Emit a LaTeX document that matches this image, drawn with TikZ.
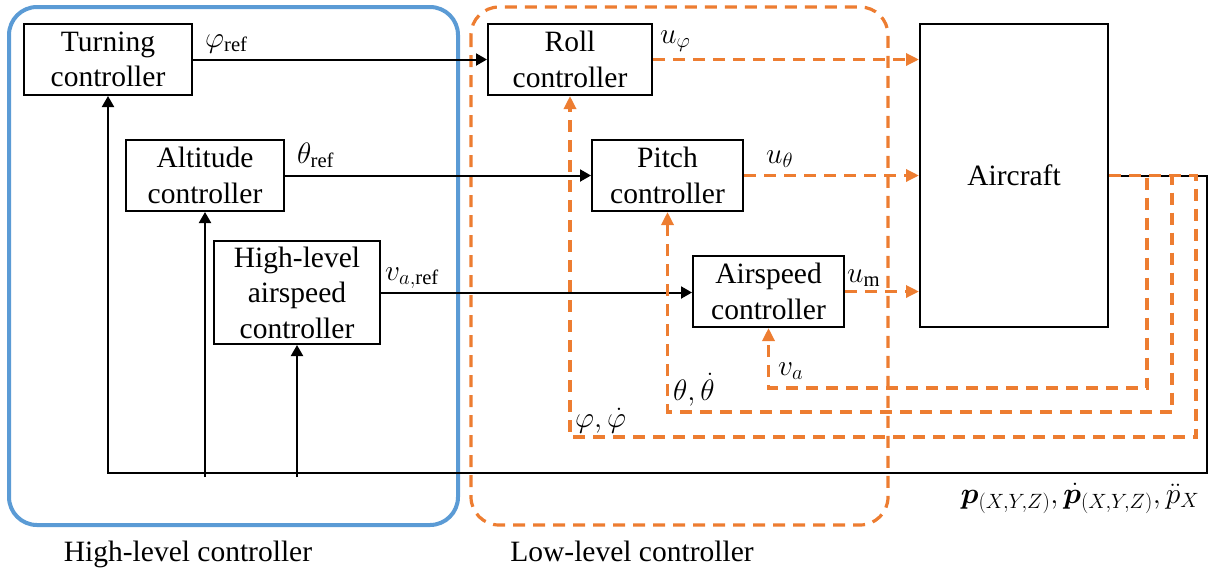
\RequirePackage{fix-cm}
\documentclass[tikz,border=0pt]{standalone}
\usepackage{bm}
\usepackage{fontspec}
\setmainfont{Liberation Serif}
\usetikzlibrary{arrows.meta}
\definecolor{oorange}{RGB}{237,125,49}
\definecolor{oblue}{RGB}{91,155,213}
\newcommand\bigf{\rmfamily\fontsize{29.5}{35.5}\selectfont}
\tikzset{
 box/.style={draw, line width=2pt, inner sep=0pt, align=center, font=\bigf},
 arr/.style={line width=2pt, -{Triangle[length=11pt,width=12pt]}},
 oarr/.style={draw=oorange, line width=3.2pt, dash pattern=on 12pt off 8pt, -{Triangle[length=13pt,width=12pt]}, fill=none},
 lbl/.style={inner sep=0pt, font=\bigf},
}
\begin{document}
\begin{tikzpicture}[x=1pt,y=-1pt]
\useasboundingbox (0,0) rectangle (1218,574);
% group frames
\draw[oblue, line width=4pt, rounded corners=28pt] (9,7) rectangle (458,525);
\draw[oorange, line width=3.2pt, dash pattern=on 12pt off 8pt, rounded corners=28pt] (471,7) rectangle (888,525);
% blocks
\node[box, minimum width=168pt, minimum height=71pt] (turn) at (108,59.5) {Turning\\controller};
\node[box, minimum width=158pt, minimum height=71pt] (alt) at (205,175.5) {Altitude\\controller};
\node[box, minimum width=166pt, minimum height=103pt] (hla) at (297,292.5) {High-level\\airspeed\\controller};
\node[box, minimum width=164pt, minimum height=71pt] (roll) at (570,59.5) {Roll\\controller};
\node[box, minimum width=151pt, minimum height=71pt] (pitch) at (667.5,175.5) {Pitch\\controller};
\node[box, minimum width=151pt, minimum height=71pt] (asc) at (768.5,291.5) {Airspeed\\controller};
\node[box, minimum width=188pt, minimum height=303pt] (ac) at (1014,175.5) {Aircraft};
% coordinates
\coordinate (br) at (1207,473);
\coordinate (bl) at (1207,477);
\coordinate (c1) at (1147,388);
\coordinate (c2) at (1172,412);
\coordinate (c3) at (1196,437);
% black references
\draw[arr] (turn.east) -- (roll.west);
\draw[arr] (alt.east) -- (pitch.west);
\draw[arr] (hla.east) -- (hla.east -| asc.west);
% black feedback
\draw[arr] (ac.east) -| (br) -| (turn.south);
\draw[arr] (alt.south |- bl) -- (alt.south);
\draw[arr] (hla.south |- bl) -- (hla.south);
% orange commands
\draw[oarr] (roll.east) -- (roll.east -| ac.west);
\draw[oarr] (pitch.east) -- (pitch.east -| ac.west);
\draw[oarr] (asc.east) -- (asc.east -| ac.west);
% orange feedback
\draw[oarr] (ac.east) -| (c1) -| (asc.south);
\draw[oarr] (ac.east) -| (c2) -| (pitch.south);
\draw[oarr] (ac.east) -| (c3) -| (roll.south);
% labels
\node[lbl, anchor=base west] (lphiref) at (205,47) {$\varphi_{\mathrm{ref}}$};
\node[lbl, anchor=base west] (lthref) at (297,163) {$\theta_{\mathrm{ref}}$};
\node[lbl, anchor=base west] (lvaref) at (385,280) {$v_{a,\mathrm{ref}}$};
\node[lbl, anchor=base west] (luphi) at (660,43) {$u_{\varphi}$};
\node[lbl, anchor=base west] (luth) at (766,163) {$u_{\theta}$};
\node[lbl, anchor=base west] (lum) at (847,282) {$u_{\mathrm{m}}$};
\node[lbl, anchor=base west] (lva) at (778,375) {$v_a$};
\node[lbl, anchor=base west] (lth) at (673,400) {$\theta,\dot{\theta}$};
\node[lbl, anchor=base west] (lphi) at (575,427) {$\varphi,\dot{\varphi}$};
\node[lbl, anchor=base] (lout) at (1080,503) {$\bm{p}_{(X,Y,Z)},\dot{\bm{p}}_{(X,Y,Z)},\ddot{p}_X$};
\node[lbl, anchor=base] (lhigh) at (188,561) {High-level controller};
\node[lbl, anchor=base] (llow) at (632,561) {Low-level controller};
\end{tikzpicture}
\end{document}
